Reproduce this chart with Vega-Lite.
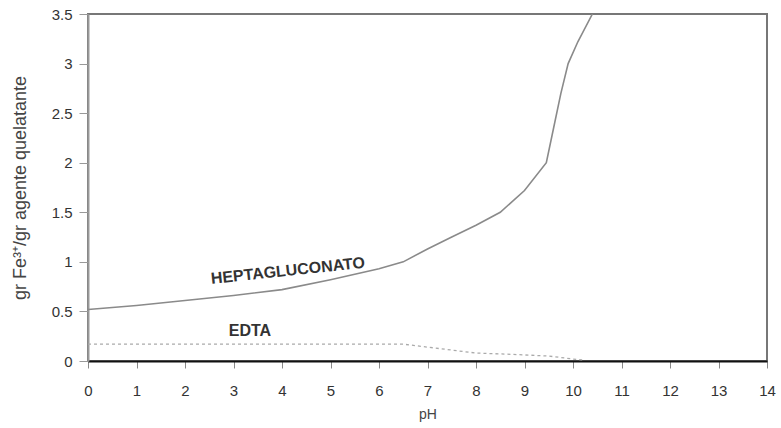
{
  "$schema": "https://vega.github.io/schema/vega-lite/v6.json",
  "width": 679,
  "height": 347,
  "autosize": {"type": "none"},
  "padding": {"left": 88, "top": 14, "right": 14, "bottom": 67},
  "background": "white",
  "config": {
    "font": "Liberation Sans",
    "view": {"stroke": "#777", "strokeWidth": 2},
    "axis": {"grid": false, "domain": true, "labelFont": "Liberation Sans", "titleFont": "Liberation Sans", "labelColor": "#333", "titleColor": "#444"}
  },
  "datasets": {
    "curves": [
      {"series": "HEPTAGLUCONATO", "pH": 0, "v": 0.52},
      {"series": "HEPTAGLUCONATO", "pH": 1, "v": 0.56},
      {"series": "HEPTAGLUCONATO", "pH": 2, "v": 0.61},
      {"series": "HEPTAGLUCONATO", "pH": 3, "v": 0.66},
      {"series": "HEPTAGLUCONATO", "pH": 4, "v": 0.72},
      {"series": "HEPTAGLUCONATO", "pH": 5, "v": 0.82},
      {"series": "HEPTAGLUCONATO", "pH": 6, "v": 0.93},
      {"series": "HEPTAGLUCONATO", "pH": 6.5, "v": 1.0},
      {"series": "HEPTAGLUCONATO", "pH": 7, "v": 1.13},
      {"series": "HEPTAGLUCONATO", "pH": 7.5, "v": 1.25},
      {"series": "HEPTAGLUCONATO", "pH": 8, "v": 1.37},
      {"series": "HEPTAGLUCONATO", "pH": 8.5, "v": 1.5},
      {"series": "HEPTAGLUCONATO", "pH": 9, "v": 1.72},
      {"series": "HEPTAGLUCONATO", "pH": 9.45, "v": 2.0},
      {"series": "HEPTAGLUCONATO", "pH": 9.6, "v": 2.35},
      {"series": "HEPTAGLUCONATO", "pH": 9.75, "v": 2.7},
      {"series": "HEPTAGLUCONATO", "pH": 9.9, "v": 3.0},
      {"series": "HEPTAGLUCONATO", "pH": 10.1, "v": 3.22},
      {"series": "HEPTAGLUCONATO", "pH": 10.4, "v": 3.5},
      {"series": "EDTA", "pH": 0, "v": 0.17},
      {"series": "EDTA", "pH": 6.5, "v": 0.17},
      {"series": "EDTA", "pH": 7, "v": 0.14},
      {"series": "EDTA", "pH": 7.5, "v": 0.11},
      {"series": "EDTA", "pH": 8, "v": 0.08},
      {"series": "EDTA", "pH": 8.6, "v": 0.07},
      {"series": "EDTA", "pH": 9.5, "v": 0.05},
      {"series": "EDTA", "pH": 10, "v": 0.02},
      {"series": "EDTA", "pH": 10.2, "v": 0.01}
    ],
    "labels": [
      {"text": "HEPTAGLUCONATO", "pH": 4.12, "v": 0.91, "angle": -6},
      {"text": "EDTA", "pH": 3.34, "v": 0.30, "angle": 0}
    ]
  },
  "encoding": {
    "x": {
      "field": "pH", "type": "quantitative",
      "scale": {"domain": [0, 14], "nice": false, "zero": false},
      "axis": {"values": [0,1,2,3,4,5,6,7,8,9,10,11,12,13,14], "title": "pH", "labelFontSize": 15, "titleFontSize": 14, "titleFontWeight": "normal", "tickSize": 7, "tickColor": "#888", "labelPadding": 15, "titlePadding": 9, "domainColor": "#111", "domainWidth": 2, "labelFlush": false}
    },
    "y": {
      "field": "v", "type": "quantitative",
      "scale": {"domain": [0, 3.5], "nice": false},
      "axis": {"values": [0,0.5,1,1.5,2,2.5,3,3.5], "format": ".2~f", "title": "gr Fe³⁺/gr agente quelatante", "labelFontSize": 15, "titleFontSize": 18, "titleFontWeight": "normal", "tickSize": 9, "tickColor": "#999", "labelPadding": 7, "titlePadding": 22, "domainColor": "#999", "domainWidth": 2, "labelFlush": false}
    }
  },
  "layer": [
    {
      "data": {"name": "curves"},
      "transform": [{"filter": "datum.series === 'HEPTAGLUCONATO'"}],
      "mark": {"type": "line", "color": "#8a8a8a", "strokeWidth": 1.6, "clip": true}
    },
    {
      "data": {"name": "curves"},
      "transform": [{"filter": "datum.series === 'EDTA'"}],
      "mark": {"type": "line", "color": "#aaaaaa", "strokeWidth": 1.3, "strokeDash": [3, 3]}
    },
    {
      "data": {"name": "labels"},
      "mark": {"type": "text", "fontSize": 16, "fontWeight": "bold", "color": "#333", "align": "center", "baseline": "middle"},
      "encoding": {
        "text": {"field": "text"},
        "angle": {"field": "angle", "type": "quantitative", "scale": null}
      }
    }
  ]
}
